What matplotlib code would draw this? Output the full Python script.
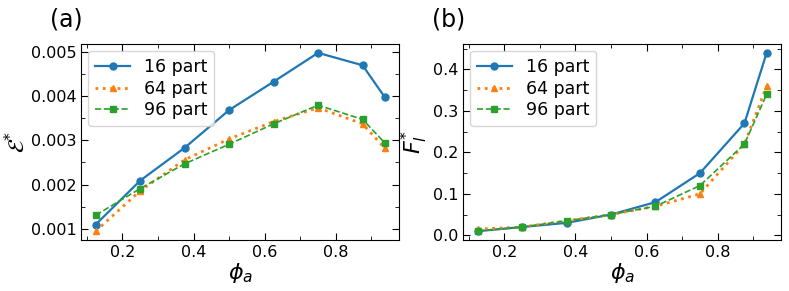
import matplotlib
matplotlib.use("Agg")
import matplotlib.pyplot as plt
from matplotlib.ticker import AutoMinorLocator

phi_a = [0.125, 0.25, 0.375, 0.5, 0.625, 0.75, 0.875, 0.9375]
labels = ["16 part", "64 part", "96 part"]

# panel (a): energy
eps_16 = [0.00110, 0.00209, 0.00283, 0.00368, 0.00432, 0.00497, 0.00469, 0.00397]
eps_64 = [0.00095, 0.00186, 0.00256, 0.00303, 0.00342, 0.00373, 0.00337, 0.00282]
eps_96 = [0.00131, 0.00191, 0.00247, 0.00291, 0.00337, 0.00379, 0.00347, 0.00294]

# panel (b): force
f_16 = [0.010, 0.020, 0.030, 0.050, 0.080, 0.150, 0.270, 0.440]
f_64 = [0.015, 0.020, 0.035, 0.050, 0.070, 0.100, 0.220, 0.360]
f_96 = [0.010, 0.020, 0.035, 0.050, 0.070, 0.120, 0.220, 0.340]

styles = [
    dict(color="#1f77b4", ls="-", marker="o", lw=1.6, ms=5),
    dict(color="#ff7f0e", ls=":", marker="^", lw=2.0, ms=5),
    dict(color="#2ca02c", ls="--", marker="s", lw=1.2, ms=5),
]

fig = plt.figure(figsize=(7.89, 2.91), dpi=100)
ax_a = fig.add_axes([0.103, 0.175, 0.403, 0.674])
ax_b = fig.add_axes([0.587, 0.175, 0.403, 0.674])

for ax, series, ylabel in [
    (ax_a, [eps_16, eps_64, eps_96], r"$\mathcal{E}^{*}$"),
    (ax_b, [f_16, f_64, f_96], r"$F_l^{*}$"),
]:
    for ys, lbl, st in zip(series, labels, styles):
        ax.plot(phi_a, ys, label=lbl, **st)
    ax.set_xlabel(r"$\phi_a$", fontsize=16, labelpad=1)
    ax.set_ylabel(ylabel, fontsize=16, labelpad=2)
    ax.xaxis.set_minor_locator(AutoMinorLocator(2))
    ax.yaxis.set_minor_locator(AutoMinorLocator(2))
    ax.tick_params(which="both", direction="in", top=True, right=True,
                   labelsize=11.5)
    ax.tick_params(which="major", length=5)
    ax.tick_params(which="minor", length=3)
    ax.set_xticks([0.2, 0.4, 0.6, 0.8])
    ax.legend(loc="upper left", fontsize=12.5, handlelength=2.0,
              labelspacing=0.22, borderaxespad=0.4)

ax_a.set_yticks([0.001, 0.002, 0.003, 0.004, 0.005])
ax_b.set_yticks([0.0, 0.1, 0.2, 0.3, 0.4])

fig.text(0.063, 0.91, "(a)", fontsize=17)
fig.text(0.547, 0.91, "(b)", fontsize=17)

fig.savefig("out.png", dpi=100)
